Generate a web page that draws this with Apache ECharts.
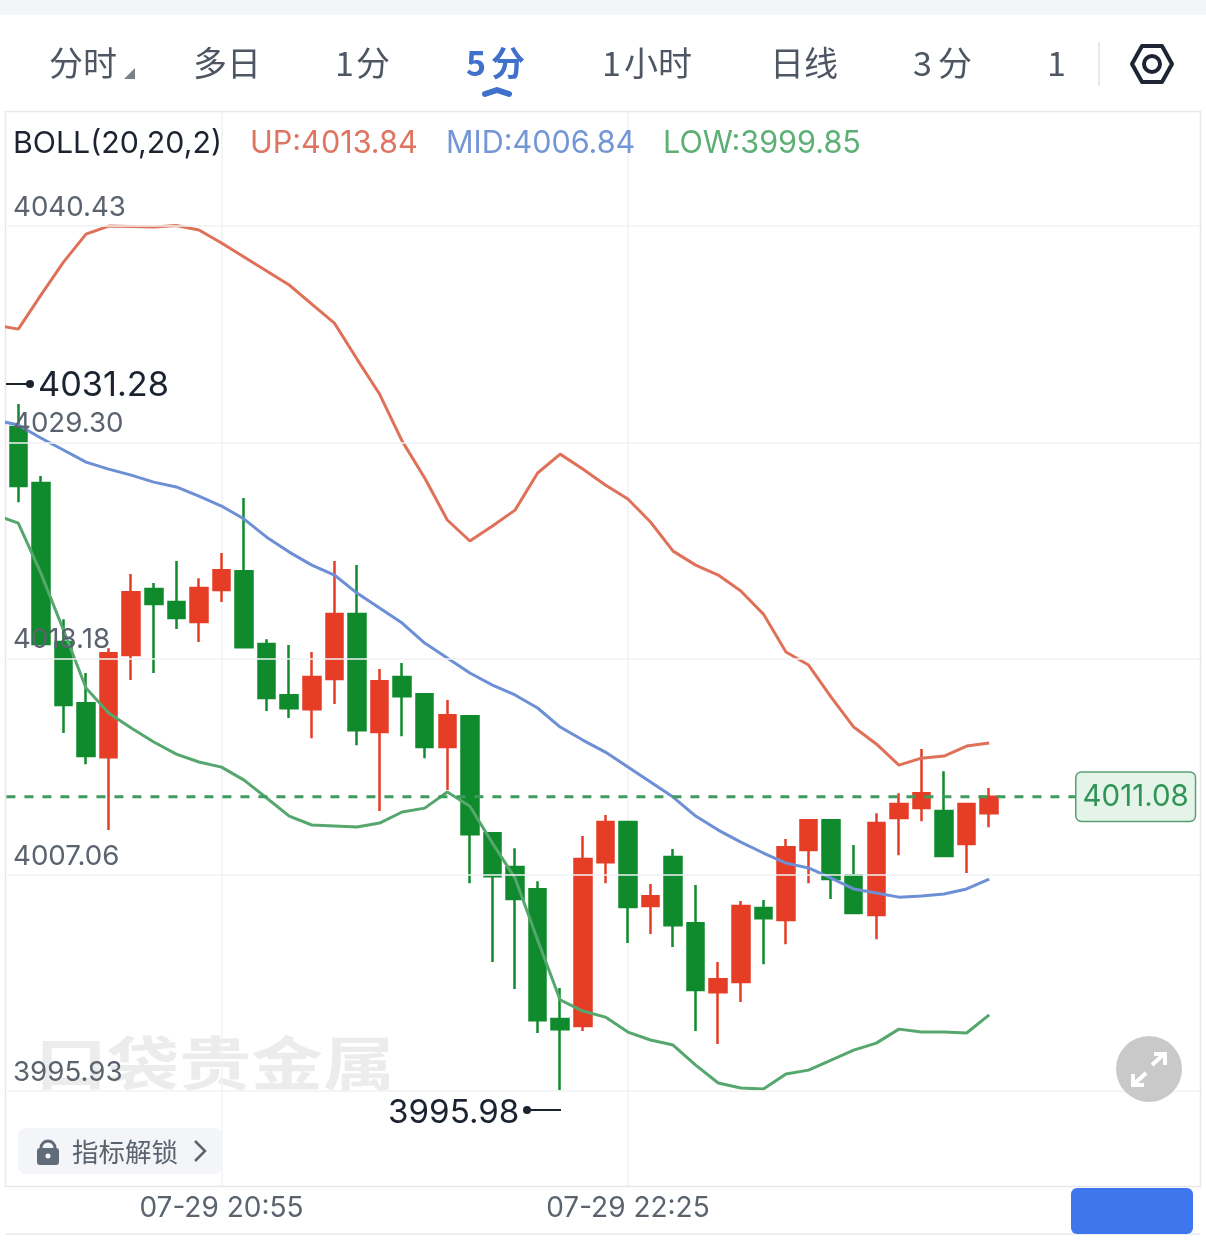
<!DOCTYPE html>
<html>
<head>
<meta charset="utf-8">
<title>BOLL 5分</title>
<style>
  html, body { margin: 0; padding: 0; background: #fff; }
  #chart { width: 1206px; height: 1242px; }
</style>
<script src="https://cdn.jsdelivr.net/npm/echarts@6/dist/echarts.min.js"></script>
</head>
<body>
<div id="chart"></div>
<script>
// first category sits left of the plot, the band lines come in from it
const categories = [
  '07-29 20:05', '07-29 20:10', '07-29 20:15', '07-29 20:20', '07-29 20:25', '07-29 20:30',
  '07-29 20:35', '07-29 20:40', '07-29 20:45', '07-29 20:50', '07-29 20:55', '07-29 21:00',
  '07-29 21:05', '07-29 21:10', '07-29 21:15', '07-29 21:20', '07-29 21:25', '07-29 21:30',
  '07-29 21:35', '07-29 21:40', '07-29 21:45', '07-29 21:50', '07-29 21:55', '07-29 22:00',
  '07-29 22:05', '07-29 22:10', '07-29 22:15', '07-29 22:20', '07-29 22:25', '07-29 22:30',
  '07-29 22:35', '07-29 22:40', '07-29 22:45', '07-29 22:50', '07-29 22:55', '07-29 23:00',
  '07-29 23:05', '07-29 23:10', '07-29 23:15', '07-29 23:20', '07-29 23:25', '07-29 23:30',
  '07-29 23:35', '07-29 23:40', '07-29 23:45', '07-29 23:50', '07-29 23:55', '07-30 00:00',
  '07-30 00:05', '07-30 00:10', '07-30 00:15', '07-30 00:20', '07-30 00:25', '07-30 00:30'
];
const timeLabels = ['07-29 20:55', '07-29 22:25'];
const priceTicks = [3995.93, 4007.06, 4018.18, 4029.30, 4040.43];
const lastPrice = 4011.08;

// open, close, low, high
const candles = [
  '-',
  [4030.09, 4027.06, 4026.23, 4031.28],
  [4027.21, 4018.93, 4018.93, 4027.57],
  [4019.03, 4015.79, 4014.35, 4020.21],
  [4015.89, 4013.17, 4012.75, 4017.44],
  [4013.11, 4018.46, 4009.36, 4018.72],
  [4018.36, 4021.60, 4017.08, 4022.53],
  [4021.76, 4020.99, 4017.44, 4022.07],
  [4021.09, 4020.27, 4019.70, 4023.20],
  [4020.06, 4021.81, 4019.03, 4022.32],
  [4021.71, 4022.73, 4021.09, 4023.61],
  [4022.68, 4018.77, 4018.77, 4026.44],
  [4018.93, 4016.15, 4015.48, 4019.18],
  [4016.30, 4015.63, 4015.12, 4018.88],
  [4015.58, 4017.23, 4014.09, 4018.52],
  [4017.13, 4020.47, 4015.84, 4023.20],
  [4020.47, 4014.50, 4013.73, 4022.99],
  [4014.40, 4017.02, 4010.34, 4017.64],
  [4017.23, 4016.25, 4014.19, 4017.95],
  [4016.35, 4013.63, 4013.06, 4016.35],
  [4013.63, 4015.27, 4011.42, 4016.05],
  [4015.22, 4009.15, 4006.63, 4015.22],
  [4009.20, 4006.99, 4002.57, 4009.20],
  [4007.46, 4005.81, 4001.18, 4008.43],
  [4006.32, 3999.58, 3998.92, 4006.73],
  [3999.64, 3999.12, 3995.98, 4001.23],
  [3999.28, 4007.87, 3999.02, 4009.05],
  [4007.71, 4009.77, 4006.63, 4010.13],
  [4009.77, 4005.40, 4003.55, 4009.77],
  [4005.45, 4005.96, 4004.01, 4006.58],
  [4007.97, 4004.47, 4003.34, 4008.38],
  [4004.57, 4001.13, 3999.02, 4006.53],
  [4001.02, 4001.69, 3998.35, 4002.57],
  [4001.54, 4005.45, 4000.51, 4005.71],
  [4005.35, 4004.83, 4002.46, 4005.76],
  [4004.73, 4008.48, 4003.49, 4008.90],
  [4008.33, 4009.87, 4006.63, 4009.87],
  [4009.87, 4006.84, 4005.81, 4009.87],
  [4007.04, 4005.09, 4005.09, 4008.59],
  [4004.99, 4009.72, 4003.75, 4010.23],
  [4009.98, 4010.70, 4008.07, 4011.26],
  [4010.49, 4011.26, 4009.82, 4013.53],
  [4010.34, 4008.02, 4008.02, 4012.39],
  [4008.64, 4010.70, 4007.15, 4010.70],
  [4010.23, 4011.08, 4009.51, 4011.52]
];

const bollUp = [
  4035.34, 4035.13, 4036.88, 4038.58, 4040.02, 4040.43, 4040.41, 4040.38, 4040.46, 4040.23,
  4039.56, 4038.84, 4038.12, 4037.40, 4036.42, 4035.44, 4033.59, 4031.79, 4029.37, 4027.47,
  4025.31, 4024.23, 4025.00, 4025.82, 4027.73, 4028.70, 4027.93, 4027.11, 4026.39, 4025.21,
  4023.71, 4022.99, 4022.48, 4021.66, 4020.47, 4018.52, 4017.85, 4016.20, 4014.66, 4013.79,
  4012.70, 4013.06, 4013.17, 4013.68, 4013.84
];
const bollMid = [
  4030.45, 4030.20, 4029.53, 4028.91, 4028.29, 4027.93, 4027.62, 4027.26, 4027.01, 4026.54,
  4026.03, 4025.36, 4024.43, 4023.66, 4022.99, 4022.48, 4021.55, 4020.78, 4020.01, 4018.98,
  4018.21, 4017.44, 4016.82, 4016.31, 4015.64, 4014.66, 4013.99, 4013.37, 4012.60, 4011.83,
  4011.06, 4010.08, 4009.36, 4008.74, 4008.18, 4007.66, 4007.41, 4006.89, 4006.33, 4006.12,
  4005.91, 4005.97, 4006.07, 4006.33, 4006.84
];
const bollLow = [
  4025.57, 4025.15, 4022.58, 4019.65, 4016.67, 4015.38, 4014.61, 4013.89, 4013.27, 4012.86,
  4012.60, 4011.93, 4011.01, 4010.08, 4009.62, 4009.57, 4009.52, 4009.72, 4010.29, 4010.49,
  4011.32, 4010.59, 4008.69, 4006.89, 4003.70, 4000.62, 4000.05, 3999.74, 3998.97, 3998.56,
  3998.30, 3997.27, 3996.35, 3996.09, 3996.04, 3996.81, 3997.01, 3997.53, 3998.04, 3998.40,
  3999.12, 3998.97, 3998.97, 3998.92, 3999.85
];

const RED = '#e53d26';
const GREEN = '#0f8a2d';
const GRAY_TEXT = '#5a636e';
const TAB_TEXT = '#4d5662';
const CJK = '"Noto Sans CJK SC", sans-serif';
const NUM = 'Inter, "Noto Sans", sans-serif';

function label(x, y, text, size, color, font, extra) {
  return {
    type: 'text',
    x: x,
    y: y,
    silent: true,
    z: 20,
    style: Object.assign({
      text: text,
      fontSize: size,
      fontFamily: font,
      fill: color,
      verticalAlign: 'middle'
    }, extra || {})
  };
}

function bandLine(name, data, color) {
  return {
    name: name,
    type: 'line',
    data: data,
    symbol: 'none',
    smooth: false,
    clip: true,
    z: 4,
    lineStyle: { color: color, width: 3 }
  };
}

const chart = echarts.init(document.getElementById('chart'));

chart.setOption({
  animation: false,
  backgroundColor: '#fff',
  grid: { left: 7, top: 112, width: 1196.7, height: 1074, show: false },
  xAxis: {
    type: 'category',
    data: categories,
    min: 1,
    boundaryGap: true,
    axisLine: { show: false },
    axisTick: { show: false },
    axisLabel: {
      interval: (i, v) => timeLabels.includes(v),
      formatter: v => v,
      color: GRAY_TEXT,
      fontFamily: NUM,
      fontSize: 28,
      margin: 9,
      verticalAlign: 'top'
    },
    splitLine: {
      show: true,
      alignWithLabel: true,
      interval: (i, v) => timeLabels.includes(v),
      lineStyle: { color: '#f1f2f4', width: 1.5 }
    }
  },
  yAxis: {
    type: 'value',
    min: 3991.05,
    max: 4046.30,
    z: 6,
    axisLine: { show: false },
    axisTick: { show: false, customValues: priceTicks },
    axisLabel: {
      inside: true,
      customValues: priceTicks,
      formatter: v => v.toFixed(2),
      color: GRAY_TEXT,
      fontFamily: NUM,
      fontSize: 27.7,
      margin: 6,
      verticalAlign: 'bottom',
      lineHeight: 37
    },
    splitLine: { show: true, lineStyle: { color: '#f1f2f4', width: 1.5 } }
  },
  series: [
    {
      name: 'K',
      type: 'candlestick',
      data: candles,
      barWidth: 17,
      z: 3,
      itemStyle: {
        color: RED,
        color0: GREEN,
        borderColor: RED,
        borderColor0: GREEN,
        borderWidth: 2.5
      }
    },
    bandLine('UP', bollUp, '#e07159'),
    bandLine('MID', bollMid, '#6d8fd6'),
    bandLine('LOW', bollLow, '#56a76d'),
    {
      name: 'last',
      type: 'line',
      data: [[0, lastPrice], [48, lastPrice]],
      symbol: 'none',
      clip: false,
      z: 5,
      lineStyle: { color: '#3f9a5d', type: [9, 9], dashOffset: 7.3, width: 3 },
      endLabel: {
        show: true,
        distance: -3,
        formatter: '4011.08',
        color: '#2f9455',
        fontFamily: NUM,
        fontSize: 29.5,
        backgroundColor: '#e4f4e9',
        borderColor: '#5a9e73',
        borderWidth: 1.5,
        borderRadius: 5,
        padding: [9, 6]
      }
    }
  ],
  graphic: [
    // page strips and the plot frame
    { type: 'rect', silent: true, z: 1, shape: { x: 0, y: 0, width: 1206, height: 15 }, style: { fill: '#f3f5f9' } },
    { type: 'rect', silent: true, z: 1, shape: { x: 0, y: 100, width: 5.5, height: 1100 }, style: { fill: '#fff' } },
    { type: 'rect', silent: true, z: 1, shape: { x: 1200.5, y: 100, width: 6, height: 1100 }, style: { fill: '#fff' } },
    { type: 'rect', silent: true, z: 1, shape: { x: 5.5, y: 111.5, width: 1195, height: 1075 }, style: { fill: 'none', stroke: '#e6e8ec', lineWidth: 1.5 } },
    { type: 'line', silent: true, z: 1, shape: { x1: 6, y1: 1234, x2: 1200, y2: 1234 }, style: { stroke: '#e6e8ec', lineWidth: 1.5 } },
    { type: 'rect', silent: true, z: 19, shape: { x: 1071, y: 1188, width: 122, height: 46, r: 6 }, style: { fill: '#3e76ee' } },

    // period tabs
    label(49, 63, '分时', 34, TAB_TEXT, CJK),
    { type: 'polygon', silent: true, z: 20, shape: { points: [[135, 68], [135, 79], [124, 79]] }, style: { fill: '#7c828a' } },
    label(193, 63.5, '多日', 34, TAB_TEXT, CJK),
    label(335, 63.5, '1', 34, TAB_TEXT, CJK),
    label(356, 63.5, '分', 34, TAB_TEXT, CJK),
    label(466, 63.5, '5', 34, '#3f70ca', CJK, { fontWeight: 'bold' }),
    label(491, 63.5, '分', 34, '#3f70ca', CJK, { fontWeight: 'bold' }),
    { type: 'polyline', silent: true, z: 20, shape: { points: [[485, 94], [497, 90], [509, 94]] }, style: { stroke: '#3f70ca', lineWidth: 6, lineCap: 'round', lineJoin: 'round', fill: 'none' } },
    label(602, 63.5, '1', 34, TAB_TEXT, CJK),
    label(624, 63.5, '小时', 34, TAB_TEXT, CJK),
    label(770, 63.5, '日线', 34, TAB_TEXT, CJK),
    label(913, 63.5, '3', 34, TAB_TEXT, CJK),
    label(938, 63.5, '分', 34, TAB_TEXT, CJK),
    label(1047, 63.5, '1', 34, TAB_TEXT, CJK),
    { type: 'line', silent: true, z: 20, shape: { x1: 1099, y1: 42, x2: 1099, y2: 86 }, style: { stroke: '#e8eaed', lineWidth: 2 } },
    { type: 'polygon', silent: true, z: 20, shape: { points: [[1132, 64], [1142, 46], [1162, 46], [1172, 64], [1162, 82], [1142, 82]] }, style: { fill: 'none', stroke: '#1d2433', lineWidth: 4, lineJoin: 'round' } },
    { type: 'circle', silent: true, z: 20, shape: { cx: 1152, cy: 64, r: 8 }, style: { fill: 'none', stroke: '#1d2433', lineWidth: 4 } },

    // indicator legend
    label(13, 144, 'BOLL(20,20,2)', 30.3, '#1c2330', NUM),
    label(250, 144, 'UP:4013.84', 30.6, '#df7560', NUM),
    label(446, 144, 'MID:4006.84', 30.5, '#7396d6', NUM),
    label(663, 144, 'LOW:3999.85', 30.6, '#5cb074', NUM),

    // high and low callouts
    { type: 'line', silent: true, z: 20, shape: { x1: 6, y1: 384, x2: 30, y2: 384 }, style: { stroke: '#1c2330', lineWidth: 2 } },
    { type: 'circle', silent: true, z: 20, shape: { cx: 30, cy: 384, r: 4 }, style: { fill: '#1c2330' } },
    label(38, 386, '4031.28', 34.3, '#1c2330', NUM),
    { type: 'line', silent: true, z: 20, shape: { x1: 527, y1: 1110, x2: 561, y2: 1110 }, style: { stroke: '#1c2330', lineWidth: 2 } },
    { type: 'circle', silent: true, z: 20, shape: { cx: 527, cy: 1110, r: 4 }, style: { fill: '#1c2330' } },
    label(388, 1113, '3995.98', 33.2, '#1c2330', NUM),

    // watermark sits under the axis labels
    Object.assign(label(35, 1063, '口袋贵金属', 72, '#ececec', CJK, { fontWeight: 'bold' }), { scaleY: 0.8, z: -1 }),

    // unlock chip
    { type: 'rect', silent: true, z: 19, shape: { x: 18, y: 1128, width: 204, height: 46, r: 8 }, style: { fill: '#f3f5f8' } },
    { type: 'rect', silent: true, z: 20, shape: { x: 37, y: 1148, width: 22, height: 17, r: 3 }, style: { fill: '#626c78' } },
    { type: 'arc', silent: true, z: 20, shape: { cx: 48, cy: 1148, r: 7, startAngle: Math.PI, endAngle: 0 }, style: { fill: 'none', stroke: '#626c78', lineWidth: 3 } },
    { type: 'circle', silent: true, z: 21, shape: { cx: 48, cy: 1156, r: 2.5 }, style: { fill: '#f3f5f8' } },
    label(72, 1152, '指标解锁', 26.5, '#5a636e', CJK),
    { type: 'polyline', silent: true, z: 20, shape: { points: [[195, 1141], [205, 1151], [195, 1161]] }, style: { stroke: '#5a636e', lineWidth: 2.5, fill: 'none' } },

    // expand button
    { type: 'circle', silent: true, z: 20, shape: { cx: 1149, cy: 1069, r: 33 }, style: { fill: '#c9c9c9' } },
    { type: 'polyline', silent: true, z: 21, shape: { points: [[1152, 1065], [1165, 1053]] }, style: { stroke: '#fff', lineWidth: 4, fill: 'none' } },
    { type: 'polyline', silent: true, z: 21, shape: { points: [[1154, 1054], [1165, 1054], [1165, 1065]] }, style: { stroke: '#fff', lineWidth: 4, fill: 'none' } },
    { type: 'polyline', silent: true, z: 21, shape: { points: [[1146, 1073], [1133, 1085]] }, style: { stroke: '#fff', lineWidth: 4, fill: 'none' } },
    { type: 'polyline', silent: true, z: 21, shape: { points: [[1133, 1074], [1133, 1085], [1144, 1085]] }, style: { stroke: '#fff', lineWidth: 4, fill: 'none' } }
  ]
});
</script>
</body>
</html>
